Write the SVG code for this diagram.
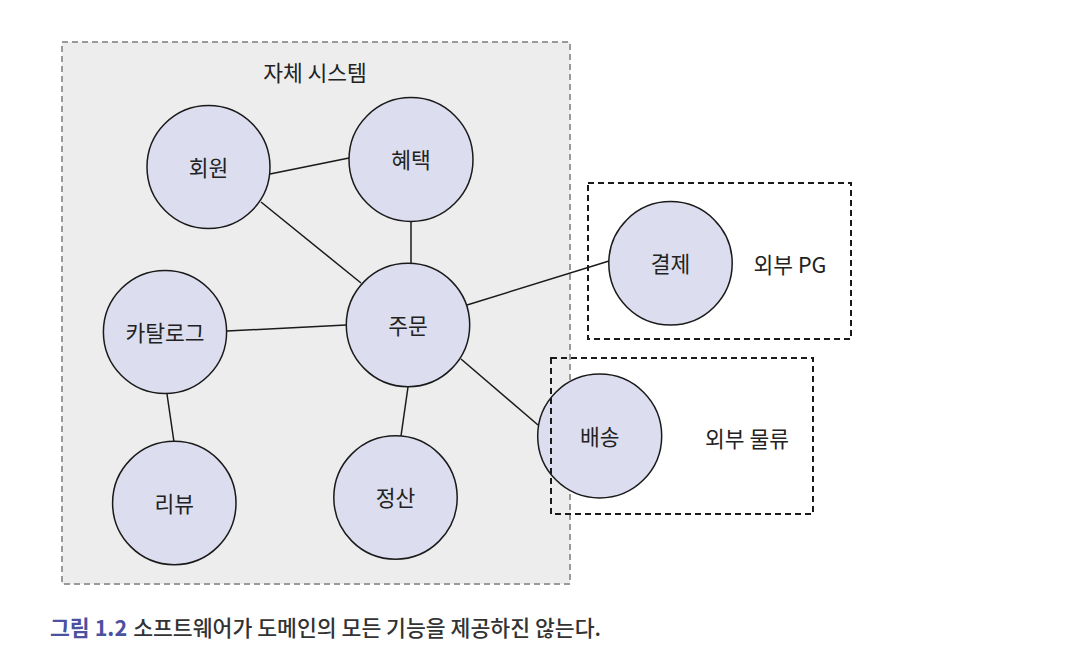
<svg xmlns="http://www.w3.org/2000/svg" width="1086" height="660" viewBox="0 0 1086 660">
<style>
.node circle{fill:#dcdeef;stroke:#1a1a1a;stroke-width:1.5}
.lbl{font-family:"Noto Sans CJK KR","Liberation Sans",sans-serif;font-size:21.5px;fill:#222;text-anchor:middle;dominant-baseline:central}
.ext{fill:none;stroke:#1a1a1a;stroke-width:2;stroke-dasharray:6 4}
.edges line{stroke:#1a1a1a;stroke-width:1.5}
.cap{font-family:"Noto Sans CJK KR","Liberation Sans",sans-serif;font-size:21.6px}
</style>
<rect width="1086" height="660" fill="#ffffff"/>
<g id="system">
<rect x="62" y="42" width="508" height="542" fill="#ededed" stroke="#9a9a9a" stroke-width="2" stroke-dasharray="6 4"/>
<text class="lbl" x="315" y="71">자체 시스템</text>
</g>
<g class="edges" id="connectors">
<line x1="270" y1="174" x2="349" y2="158"/>
<line x1="261" y1="202" x2="361" y2="283"/>
<line x1="411" y1="221" x2="411" y2="263"/>
<line x1="227" y1="331" x2="346" y2="325"/>
<line x1="467" y1="305" x2="609" y2="261"/>
<line x1="167" y1="394" x2="174" y2="442"/>
<line x1="408" y1="387" x2="401" y2="436"/>
<line x1="461" y1="359" x2="538" y2="425"/>
</g>
<g class="node" id="member"><circle cx="208.5" cy="167" r="61.5"/><text class="lbl" x="208.5" y="166">회원</text></g>
<g class="node" id="benefit"><circle cx="411" cy="159.5" r="62"/><text class="lbl" x="411" y="158.5">혜택</text></g>
<g class="node" id="order"><circle cx="408" cy="325" r="61.7"/><text class="lbl" x="408" y="324">주문</text></g>
<g class="node" id="catalog"><circle cx="165" cy="332" r="61.6"/><text class="lbl" x="165" y="331">카탈로그</text></g>
<g class="node" id="review"><circle cx="174.3" cy="503" r="61.7"/><text class="lbl" x="174.3" y="502">리뷰</text></g>
<g class="node" id="settlement"><circle cx="395.5" cy="497.5" r="61.7"/><text class="lbl" x="395.5" y="496.5">정산</text></g>
<g class="node" id="payment"><circle cx="670.5" cy="263.3" r="61.7"/><text class="lbl" x="670.5" y="262.3">결제</text></g>
<g class="node" id="delivery"><circle cx="599.7" cy="436" r="62"/><text class="lbl" x="599.7" y="435">배송</text></g>
<g id="external-pg">
<rect class="ext" x="588" y="183" width="263" height="156"/>
<text class="lbl" x="790" y="263">외부 PG</text>
</g>
<g id="external-logistics">
<rect class="ext" x="551" y="358" width="262" height="156"/>
<text class="lbl" x="747" y="437">외부 물류</text>
</g>
<g id="caption">
<text class="cap" x="50" y="636"><tspan fill="#4b519f" font-weight="700">그림 1.2</tspan><tspan fill="#333" font-weight="500" dx="6">소프트웨어가 도메인의 모든 기능을 제공하진 않는다.</tspan></text>
</g>
</svg>
